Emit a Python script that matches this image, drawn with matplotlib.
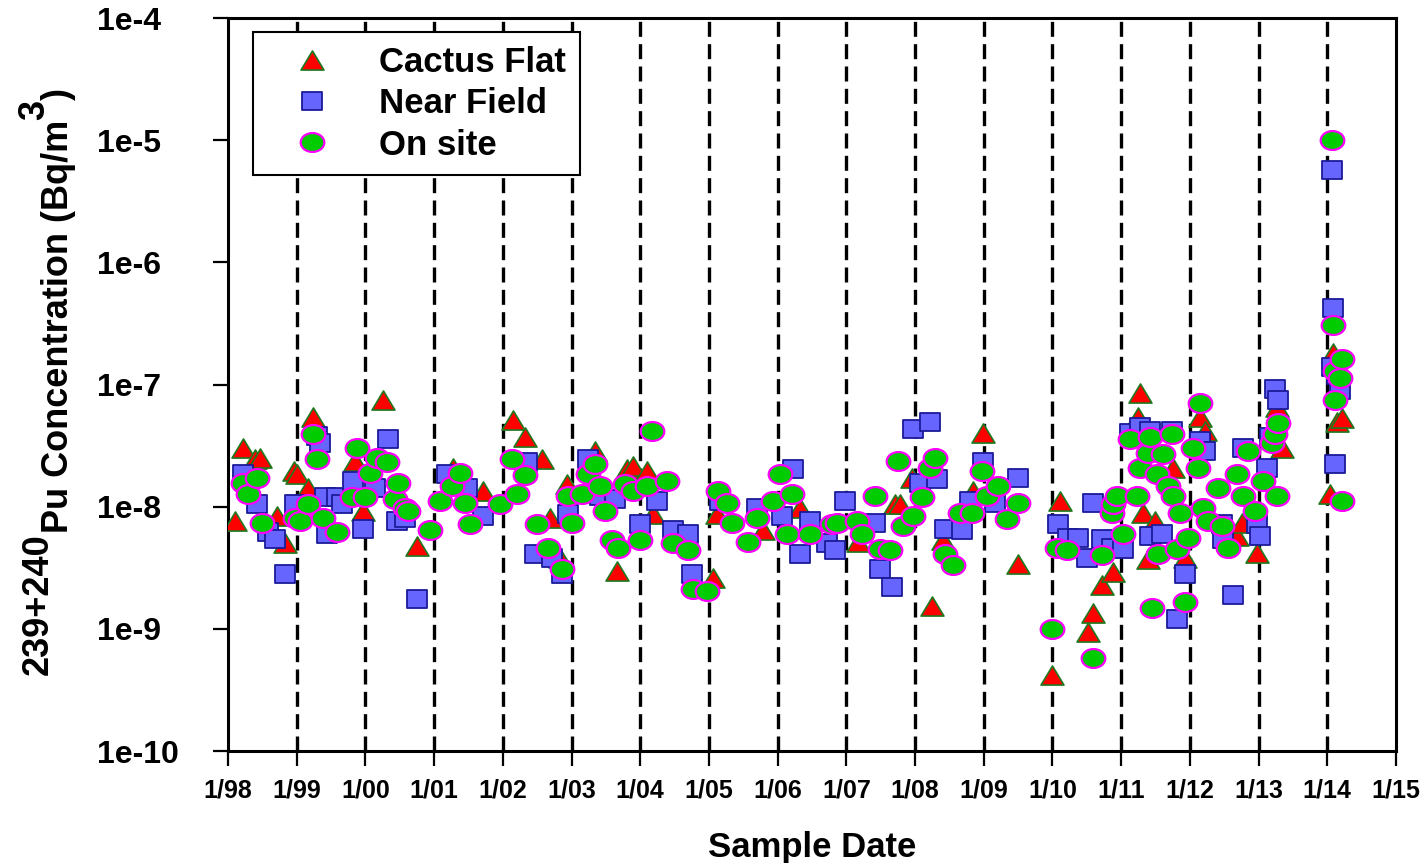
import numpy as np
import matplotlib
matplotlib.use("Agg")
import matplotlib.pyplot as plt
from matplotlib.path import Path
from matplotlib.transforms import Affine2D

# Cactus Flat (decimal year, Bq/m3)
cf_date = [1998.10, 1998.22, 1998.39, 1998.47, 1998.71, 1998.83, 1998.96, 1999.00, 1999.16, 1999.24,
           1999.85, 1999.97, 2000.26, 2000.75, 2001.28, 2001.71, 2002.15, 2002.32, 2002.57, 2002.69,
           2002.83, 2002.93, 2003.34, 2003.66, 2003.81, 2003.90, 2004.10, 2004.19, 2005.06, 2005.12,
           2005.79, 2006.33, 2007.17, 2007.71, 2007.78, 2007.96, 2008.25, 2008.41, 2008.84, 2008.99,
           2009.50, 2010.00, 2010.11, 2010.52, 2010.59, 2010.72, 2010.88, 2011.25, 2011.28, 2011.32,
           2011.39, 2011.49, 2011.76, 2011.93, 2012.15, 2012.22, 2012.69, 2012.76, 2012.98, 2013.21,
           2013.27, 2013.34, 2014.04, 2014.08, 2014.14, 2014.22]
cf_conc = [7.7e-9, 3.0e-8, 2.47e-8, 2.52e-8, 8.4e-9, 5.0e-9, 1.97e-8, 1.86e-8, 1.43e-8, 5.4e-8,
           2.38e-8, 9.3e-9, 7.4e-8, 4.8e-9, 2.08e-8, 1.35e-8, 5.1e-8, 3.7e-8, 2.47e-8, 8.1e-9,
           3.8e-9, 1.54e-8, 2.88e-8, 3.0e-9, 2.04e-8, 2.16e-8, 1.97e-8, 8.7e-9, 2.6e-9, 8.7e-9,
           6.4e-9, 9.8e-9, 5.1e-9, 1.06e-8, 1.06e-8, 1.72e-8, 1.55e-9, 5.3e-9, 1.35e-8, 4.0e-8,
           3.4e-9, 4.2e-10, 1.12e-8, 9.4e-10, 1.35e-9, 2.3e-9, 2.9e-9, 5.4e-8, 8.6e-8, 8.9e-9,
           3.7e-9, 7.7e-9, 2.08e-8, 3.8e-9, 5.4e-8, 4.2e-8, 5.8e-9, 7.4e-9, 4.2e-9, 3.6e-8,
           6.5e-8, 3.05e-8, 1.28e-8, 1.8e-7, 4.9e-8, 5.3e-8]

# Near Field
nf_date = [1998.22, 1998.42, 1998.58, 1998.68, 1998.83, 1998.98, 1999.30, 1999.34, 1999.41, 1999.44,
           1999.59, 1999.66, 1999.82, 1999.97, 2000.14, 2000.33, 2000.46, 2000.58, 2000.75, 2001.19,
           2001.48, 2001.71, 2002.35, 2002.47, 2002.72, 2002.86, 2002.95, 2003.24, 2003.41, 2003.63,
           2004.00, 2004.24, 2004.48, 2004.70, 2004.75, 2005.16, 2005.70, 2006.06, 2006.22, 2006.33,
           2006.47, 2006.72, 2006.84, 2006.98, 2007.42, 2007.49, 2007.67, 2007.97, 2008.07, 2008.22,
           2008.32, 2008.44, 2008.68, 2008.80, 2008.99, 2009.16, 2009.50, 2010.08, 2010.23, 2010.37,
           2010.50, 2010.59, 2010.72, 2010.87, 2011.03, 2011.13, 2011.28, 2011.42, 2011.42, 2011.60,
           2011.74, 2011.81, 2011.93, 2012.15, 2012.22, 2012.47, 2012.48, 2012.63, 2012.77, 2012.98,
           2013.02, 2013.12, 2013.17, 2013.24, 2013.28, 2014.07, 2014.08, 2014.07, 2014.14, 2014.19,
           2014.11]
nf_conc = [1.86e-8, 1.06e-8, 6.2e-9, 5.4e-9, 2.8e-9, 1.06e-8, 3.8e-8, 3.3e-8, 1.19e-8, 6.0e-9,
           1.19e-8, 1.06e-8, 1.63e-8, 6.6e-9, 1.43e-8, 3.6e-8, 7.7e-9, 8.1e-9, 1.75e-9, 1.86e-8,
           1.43e-8, 8.4e-9, 2.3e-8, 4.1e-9, 3.8e-9, 2.8e-9, 8.7e-9, 2.47e-8, 1.23e-8, 1.16e-8,
           7.2e-9, 1.12e-8, 6.4e-9, 6.0e-9, 2.8e-9, 1.12e-8, 9.8e-9, 8.4e-9, 2.04e-8, 4.1e-9,
           7.7e-9, 5.0e-9, 4.4e-9, 1.12e-8, 7.4e-9, 3.1e-9, 2.2e-9, 4.35e-8, 1.57e-8, 4.9e-8,
           1.7e-8, 6.6e-9, 6.4e-9, 1.12e-8, 2.3e-8, 1.08e-8, 1.72e-8, 7.2e-9, 5.5e-9, 5.5e-9,
           3.8e-9, 1.08e-8, 5.4e-9, 4.6e-9, 4.5e-9, 4.0e-8, 4.45e-8, 4.2e-8, 5.8e-9, 6.0e-9,
           4.2e-8, 1.2e-9, 2.8e-9, 3.47e-8, 2.88e-8, 7.2e-9, 5.4e-9, 1.9e-9, 3.0e-8, 7.2e-9,
           5.8e-9, 2.08e-8, 3.7e-8, 9.2e-8, 7.4e-8, 5.7e-6, 4.2e-7, 1.38e-7, 1.19e-7, 9.1e-8,
           2.25e-8]

# On site
os_date = [1998.22, 1998.29, 1998.42, 1998.49, 1998.98, 1999.05, 1999.16, 1999.24, 1999.30, 1999.38,
           1999.59, 1999.80, 1999.88, 1999.99, 2000.07, 2000.17, 2000.31, 2000.43, 2000.47, 2000.58,
           2000.62, 2000.94, 2001.09, 2001.26, 2001.38, 2001.45, 2001.52, 2001.96, 2002.13, 2002.21,
           2002.32, 2002.50, 2002.66, 2002.86, 2002.95, 2003.01, 2003.15, 2003.24, 2003.34, 2003.41,
           2003.49, 2003.59, 2003.68, 2003.78, 2003.90, 2004.00, 2004.10, 2004.17, 2004.39, 2004.48,
           2004.70, 2004.77, 2004.97, 2005.13, 2005.26, 2005.34, 2005.57, 2005.70, 2005.93, 2006.03,
           2006.14, 2006.21, 2006.47, 2006.79, 2006.86, 2007.16, 2007.23, 2007.42, 2007.49, 2007.64,
           2007.75, 2007.83, 2007.97, 2008.10, 2008.22, 2008.29, 2008.44, 2008.55, 2008.66, 2008.83,
           2008.98, 2009.05, 2009.21, 2009.34, 2009.50, 2010.00, 2010.07, 2010.21, 2010.59, 2010.72,
           2010.87, 2010.88, 2010.94, 2011.03, 2011.13, 2011.23, 2011.28, 2011.39, 2011.42, 2011.45,
           2011.52, 2011.54, 2011.61, 2011.68, 2011.74, 2011.76, 2011.81, 2011.86, 2011.93, 2011.97,
           2012.05, 2012.12, 2012.15, 2012.19, 2012.26, 2012.41, 2012.47, 2012.56, 2012.69, 2012.77,
           2012.85, 2012.95, 2013.07, 2013.20, 2013.24, 2013.27, 2013.28, 2014.07, 2014.08, 2014.11,
           2014.22, 2014.19, 2014.11, 2014.22]
os_conc = [1.57e-8, 1.28e-8, 1.72e-8, 7.4e-9, 8.1e-9, 7.7e-9, 1.06e-8, 3.9e-8, 2.47e-8, 8.1e-9,
           6.2e-9, 1.19e-8, 3.05e-8, 1.19e-8, 1.9e-8, 2.52e-8, 2.3e-8, 1.16e-8, 1.57e-8, 9.8e-9,
           9.3e-9, 6.4e-9, 1.12e-8, 1.49e-8, 1.9e-8, 1.08e-8, 7.2e-9, 1.06e-8, 2.47e-8, 1.28e-8,
           1.8e-8, 7.2e-9, 4.6e-9, 3.1e-9, 1.23e-8, 7.4e-9, 1.28e-8, 1.86e-8, 2.25e-8, 1.49e-8,
           9.3e-9, 5.3e-9, 4.6e-9, 1.54e-8, 1.35e-8, 5.3e-9, 1.49e-8, 4.2e-8, 1.63e-8, 5.0e-9,
           4.4e-9, 2.1e-9, 2.05e-9, 1.35e-8, 1.08e-8, 7.4e-9, 5.1e-9, 8.1e-9, 1.12e-8, 1.86e-8,
           6.0e-9, 1.28e-8, 6.0e-9, 7.2e-9, 7.4e-9, 7.7e-9, 6.0e-9, 1.23e-8, 4.5e-9, 4.4e-9,
           2.38e-8, 7.0e-9, 8.4e-9, 1.19e-8, 2.08e-8, 2.52e-8, 4.1e-9, 3.3e-9, 8.9e-9, 8.9e-9,
           1.97e-8, 1.23e-8, 1.49e-8, 7.9e-9, 1.08e-8, 1.0e-9, 4.6e-9, 4.4e-9, 5.8e-10, 4.0e-9,
           8.9e-9, 1.06e-8, 1.23e-8, 6.0e-9, 3.6e-8, 1.23e-8, 2.08e-8, 2.77e-8, 3.7e-8, 1.48e-9,
           1.86e-8, 4.1e-9, 2.7e-8, 1.49e-8, 3.9e-8, 1.23e-8, 4.5e-9, 8.9e-9, 1.65e-9, 5.5e-9,
           3.0e-8, 2.08e-8, 7.1e-8, 9.8e-9, 7.7e-9, 1.43e-8, 7.0e-9, 4.6e-9, 1.86e-8, 1.23e-8,
           2.88e-8, 9.3e-9, 1.63e-8, 3.3e-8, 3.9e-8, 1.23e-8, 4.8e-8, 1.0e-5, 3.05e-7, 1.3e-7,
           1.63e-7, 1.12e-7, 7.4e-8, 1.12e-8]

years = list(range(1998, 2016))
year_labels = ['1/%02d' % (y % 100) for y in years]
decades = [1e-10, 1e-9, 1e-8, 1e-7, 1e-6, 1e-5, 1e-4]
decade_labels = ['1e-10', '1e-9', '1e-8', '1e-7', '1e-6', '1e-5', '1e-4']

FONT = 'Liberation Sans'
W, H = 1420, 863

# slightly wide markers, like the original
tri = Path([(0, 1), (-1.2, -1), (1.2, -1), (0, 1)], closed=True)
sq = Path([(-1.1, -1), (1.1, -1), (1.1, 1), (-1.1, 1), (-1.1, -1)], closed=True)
ell = Affine2D().scale(1.25, 1).transform_path(Path.unit_circle())

fig = plt.figure(figsize=(W / 100, H / 100), dpi=100)
ax = fig.add_axes([228 / W, 1 - 751 / H, 1168 / W, 733 / H])

# dashed year lines
for y in years[1:-1]:
    ax.axvline(y, color='black', linestyle=(0, (4.5, 2.2)), linewidth=2.4, zorder=1)

ax.plot(cf_date, cf_conc, linestyle='none', marker=tri, markersize=16.5, markerfacecolor='#ff0000',
        markeredgecolor='#1f7a1f', markeredgewidth=1.2, label='Cactus Flat', zorder=3)
ax.plot(nf_date, nf_conc, linestyle='none', marker=sq, markersize=14.5, markerfacecolor='#6666ff',
        markeredgecolor='#1a1a99', markeredgewidth=1.3, label='Near Field', zorder=4)
ax.plot(os_date, os_conc, linestyle='none', marker=ell, markersize=17, markerfacecolor='#00cc00',
        markeredgecolor='#ff00ff', markeredgewidth=1.6, label='On site', zorder=5)

ax.set_yscale('log')
ax.set_ylim(1e-10, 1e-4)
ax.set_xlim(1998, 2015)
ax.set_yticks(decades)
ax.set_yticklabels(decade_labels, fontsize=23, fontweight='bold', family=FONT, ha='left')
ax.yaxis.set_minor_locator(matplotlib.ticker.NullLocator())
ax.set_xticks(years)
ax.set_xticklabels(year_labels, fontsize=18, fontweight='bold', family=FONT)
ax.tick_params(axis='x', direction='out', length=11, width=1.6, pad=9)
ax.tick_params(axis='y', direction='out', length=11, width=1.6, pad=83)

for side in ['left', 'bottom', 'top', 'right']:
    ax.spines[side].set_linewidth(2.2)

ax.set_xlabel('Sample Date', fontsize=25, fontweight='bold', family=FONT, labelpad=20)

leg = ax.legend(loc='upper left', bbox_to_anchor=((253 - 228) / 1168, 1 - (32 - 18) / 733),
                borderaxespad=0, fancybox=False, edgecolor='black', framealpha=1,
                prop={'family': FONT, 'weight': 'bold', 'size': 25},
                handlelength=2.6, handletextpad=0.63, labelspacing=0.24, borderpad=0.4,
                markerscale=1.0)
leg.get_frame().set_linewidth(1.5)

# y label built from pieces: superscripts in the original are full size, only shifted
renderer = fig.canvas.get_renderer()
pieces = [('239+240', 48), ('Pu Concentration (Bq/m', 68), ('3', 44), (')', 68)]
ystart = H - 675
for txt, xbase in pieces:
    t = fig.text(xbase / W, ystart / H, txt, rotation=90, rotation_mode='anchor',
                 ha='left', va='baseline', fontsize=26, fontweight='bold', family=FONT)
    ext = t.get_window_extent(renderer)
    ystart = ext.y1

fig.savefig('out.png', dpi=100)
